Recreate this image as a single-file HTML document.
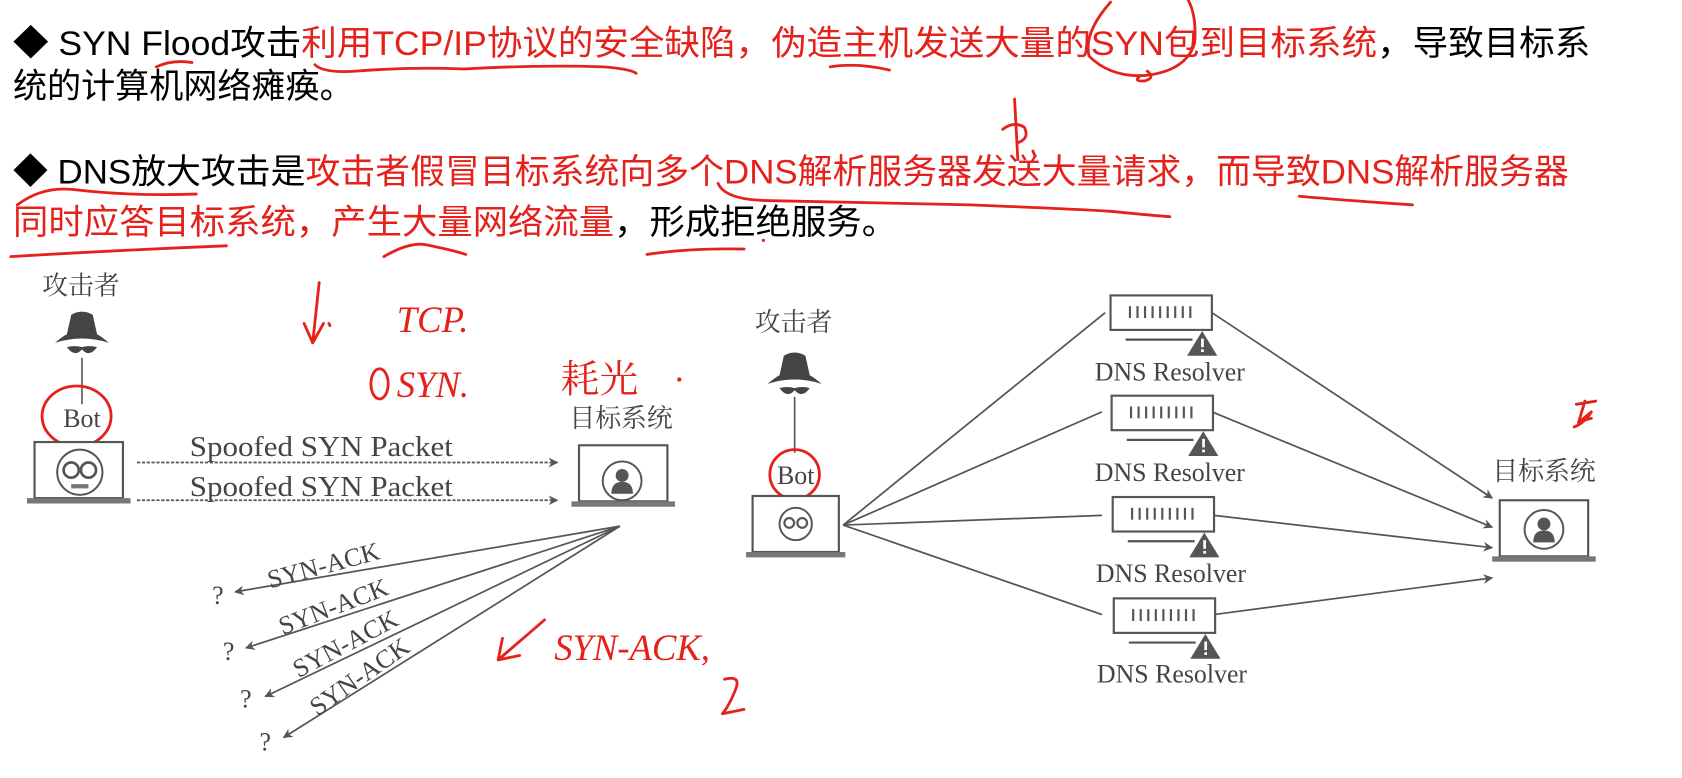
<!DOCTYPE html>
<html><head><meta charset="utf-8"><style>
html,body{margin:0;padding:0;background:#fff;width:1682px;height:778px;overflow:hidden}
svg{display:block}
.t{font-family:"Liberation Sans","Noto Sans CJK SC",sans-serif;font-size:32px}
.r{fill:#e4211b}
.d{font-family:"Liberation Serif","Noto Serif CJK SC",serif;fill:#444}
.h{fill:none;stroke:#e4211b;stroke-width:2.6;stroke-linecap:round;stroke-linejoin:round}
.g{stroke:#555;stroke-width:1.6;fill:none}
.hw{font-family:"Liberation Serif",serif;font-style:italic;fill:#e4211b}
</style></head><body>
<svg width="1682" height="778" viewBox="0 0 1560 721.6" xmlns="http://www.w3.org/2000/svg">
<defs>
<marker id="a" viewBox="0 0 10 10" refX="9" refY="5" markerWidth="9" markerHeight="9" orient="auto" markerUnits="userSpaceOnUse"><path d="M0,0 L10,5 L0,10 L3,5 Z" fill="#555"/></marker>
<g id="lap"><rect x="0" y="0" width="82" height="52" fill="#fff" stroke="#555" stroke-width="2"/><rect x="-7" y="52" width="96" height="5" fill="#777"/></g>
<g id="hat"><path d="M-25,0 Q0,-8 25,0 Q18,-6 14,-8 L10,-26 Q0,-32 -10,-26 L-14,-8 Q-18,-6 -25,0 Z" fill="#444"/><path d="M-14,4 Q-7,14 0,6 Q7,14 14,4 Q7,2 0,4 Q-7,2 -14,4Z" fill="#444"/></g>
<g id="res"><rect x="0" y="0" width="94" height="32" fill="#fff" stroke="#555" stroke-width="2"/>
<g stroke="#555" stroke-width="2"><line x1="18" y1="10" x2="18" y2="21"/><line x1="25" y1="10" x2="25" y2="21"/><line x1="32" y1="10" x2="32" y2="21"/><line x1="39" y1="10" x2="39" y2="21"/><line x1="46" y1="10" x2="46" y2="21"/><line x1="53" y1="10" x2="53" y2="21"/><line x1="60" y1="10" x2="60" y2="21"/><line x1="67" y1="10" x2="67" y2="21"/><line x1="74" y1="10" x2="74" y2="21"/></g>
<line x1="14" y1="41" x2="76" y2="41" stroke="#555" stroke-width="2"/>
<path d="M85,33 L99,56 L71,56 Z" fill="#555"/><rect x="84" y="40" width="2.5" height="8" fill="#fff"/><rect x="84" y="50" width="2.5" height="2.5" fill="#fff"/></g>
<g id="person"><circle r="18" fill="#fff" stroke="#555" stroke-width="1.8"/><circle cy="-5" r="6" fill="#555"/><path d="M-10,12 Q-10,1 0,1 Q10,1 10,12 Z" fill="#555"/></g>
</defs>
<text class="t" x="12" y="51" textLength="1463" lengthAdjust="spacingAndGlyphs"><tspan>◆ SYN Flood攻击</tspan><tspan class="r">利用TCP/IP协议的安全缺陷，伪造主机发送大量的SYN包到目标系统</tspan><tspan>，导致目标系</tspan></text>
<text class="t" x="12" y="91" textLength="316" lengthAdjust="spacingAndGlyphs">统的计算机网络瘫痪。</text>
<text class="t" x="12" y="170" textLength="1443" lengthAdjust="spacingAndGlyphs"><tspan>◆ DNS放大攻击是</tspan><tspan class="r">攻击者假冒目标系统向多个DNS解析服务器发送大量请求，而导致DNS解析服务器</tspan></text>
<text class="t" x="12" y="217" textLength="820" lengthAdjust="spacingAndGlyphs"><tspan class="r">同时应答目标系统，产生大量网络流量</tspan><tspan>，形成拒绝服务。</tspan></text>
<path class="h" d="M145,62 Q160,55 178,58"/>
<path class="h" d="M292,60 Q300,68 330,66 Q380,62 430,64 Q500,60 560,62 Q585,64 590,68"/>
<path class="h" d="M770,62 Q795,58 825,65"/>
<path class="h" d="M1030,2 Q1005,30 1010,52 Q1030,72 1062,70 Q1100,66 1108,40 Q1110,15 1102,0"/>
<path class="h" d="M1058,70 Q1050,76 1062,75 Q1072,72 1064,66"/>
<path class="h" d="M941,92 L944,148 M930,120 Q940,112 950,118 Q955,128 945,132 M958,140 L960,145"/>
<path class="h" d="M16,190 Q40,172 70,176 Q120,182 182,180"/>
<path class="h" d="M666,170 Q672,185 710,186 Q800,188 900,190 Q1000,194 1030,196 Q1070,200 1085,201"/>
<path class="h" d="M1205,182 Q1250,186 1310,190"/>
<path class="h" d="M10,238 Q110,232 210,228"/>
<path class="h" d="M356,238 Q380,224 395,227 Q420,232 432,236"/>
<path class="h" d="M600,236 Q640,230 690,231"/>
<circle cx="708" cy="223" r="1.5" fill="#e4211b"/>
<text class="d" x="75" y="273" font-size="24" text-anchor="middle">攻击者</text>
<use href="#hat" x="76" y="318"/>
<line x1="76" y1="332" x2="76" y2="375" stroke="#555" stroke-width="1.5"/>
<text class="d" x="76" y="396" font-size="24" text-anchor="middle">Bot</text>
<ellipse class="h" cx="71" cy="386" rx="32" ry="28"/>
<use href="#lap" x="32" y="410"/>
<circle cx="74" cy="438" r="21" fill="#fff" stroke="#555" stroke-width="1.8"/>
<circle cx="66" cy="436" r="7" fill="none" stroke="#555" stroke-width="2.5"/><circle cx="82" cy="436" r="7" fill="none" stroke="#555" stroke-width="2.5"/>
<rect x="66" y="449" width="16" height="4" fill="#777"/>
<text class="d" x="176" y="423" font-size="26" textLength="244" lengthAdjust="spacingAndGlyphs">Spoofed SYN Packet</text>
<text class="d" x="176" y="460" font-size="26" textLength="244" lengthAdjust="spacingAndGlyphs">Spoofed SYN Packet</text>
<line x1="127" y1="429" x2="517" y2="429" class="g" stroke-dasharray="3 1.5" stroke-width="2" marker-end="url(#a)"/>
<line x1="127" y1="464" x2="517" y2="464" class="g" stroke-dasharray="3 1.5" stroke-width="2" marker-end="url(#a)"/>
<text class="d" x="576" y="396" font-size="24" text-anchor="middle">目标系统</text>
<use href="#lap" x="537" y="413"/>
<use href="#person" x="577" y="446"/>
<g class="g">
<line x1="575" y1="488" x2="218" y2="549" marker-end="url(#a)"/>
<line x1="575" y1="488" x2="228" y2="601" marker-end="url(#a)"/>
<line x1="575" y1="488" x2="246" y2="646" marker-end="url(#a)"/>
<line x1="575" y1="488" x2="263" y2="684" marker-end="url(#a)"/>
</g>
<g class="d" font-size="24">
<text x="202" y="560" text-anchor="middle">?</text>
<text x="212" y="612" text-anchor="middle">?</text>
<text x="228" y="656" text-anchor="middle">?</text>
<text x="246" y="696" text-anchor="middle">?</text>
<text transform="translate(302,532) rotate(-15)" text-anchor="middle">SYN-ACK</text>
<text transform="translate(312,570) rotate(-21)" text-anchor="middle">SYN-ACK</text>
<text transform="translate(324,604) rotate(-28)" text-anchor="middle">SYN-ACK</text>
<text transform="translate(338,634) rotate(-35)" text-anchor="middle">SYN-ACK</text>
</g>
<path class="h" d="M296,262 L290,318 M282,300 L290,318 L300,300 M305,300 L306,302"/>
<text class="hw" x="368" y="308" font-size="34">TCP.</text>
<ellipse class="h" cx="352" cy="356" rx="8" ry="14"/>
<text class="hw" x="368" y="368" font-size="34">SYN.</text>
<text x="520" y="364" font-size="36" font-family="'Noto Serif CJK SC',serif" fill="#e4211b">耗光</text>
<circle cx="630" cy="352" r="2" fill="#e4211b"/>
<path class="h" d="M505,575 L462,612 M462,612 L466,592 M462,612 L482,608"/>
<text class="hw" x="514" y="612" font-size="34">SYN-ACK,</text>
<path class="h" d="M672,630 Q688,626 682,640 Q676,655 670,662 Q680,660 690,658"/>
<text class="d" x="736" y="307" font-size="24" text-anchor="middle">攻击者</text>
<use href="#hat" x="737" y="356"/>
<line x1="737" y1="368" x2="737" y2="420" stroke="#555" stroke-width="1.5"/>
<text class="d" x="738" y="449" font-size="24" text-anchor="middle">Bot</text>
<ellipse class="h" cx="737" cy="440" rx="23" ry="23"/>
<rect x="698" y="460" width="80" height="52" fill="#fff" stroke="#555" stroke-width="2"/><rect x="692" y="512" width="92" height="5" fill="#777"/>
<circle cx="738" cy="486" r="15" fill="#fff" stroke="#555" stroke-width="1.8"/>
<circle cx="732" cy="485" r="4.5" fill="none" stroke="#555" stroke-width="2"/><circle cx="744" cy="485" r="4.5" fill="none" stroke="#555" stroke-width="2"/>
<g class="g">
<line x1="782" y1="487" x2="1025" y2="290"/>
<line x1="782" y1="487" x2="1022" y2="382"/>
<line x1="782" y1="487" x2="1022" y2="478"/>
<line x1="782" y1="487" x2="1022" y2="570"/>
<line x1="1124" y1="290" x2="1384" y2="462" marker-end="url(#a)"/>
<line x1="1124" y1="382" x2="1384" y2="489" marker-end="url(#a)"/>
<line x1="1126" y1="478" x2="1384" y2="508" marker-end="url(#a)"/>
<line x1="1126" y1="570" x2="1384" y2="536" marker-end="url(#a)"/>
</g>
<use href="#res" x="1030" y="274"/>
<use href="#res" x="1031" y="367"/>
<use href="#res" x="1032" y="461"/>
<use href="#res" x="1033" y="555"/>
<g class="d" font-size="24" text-anchor="middle">
<text x="1085" y="353">DNS Resolver</text>
<text x="1085" y="446">DNS Resolver</text>
<text x="1086" y="540">DNS Resolver</text>
<text x="1087" y="633">DNS Resolver</text>
</g>
<text class="d" x="1432" y="445" font-size="24" text-anchor="middle">目标系统</text>
<use href="#lap" x="1391" y="464"/>
<use href="#person" x="1432" y="491"/>
<path class="h" d="M1462,375 L1480,372 M1470,372 L1464,392 L1476,382 Q1470,392 1460,396 M1468,390 L1476,388"/>
</svg>
</body></html>
